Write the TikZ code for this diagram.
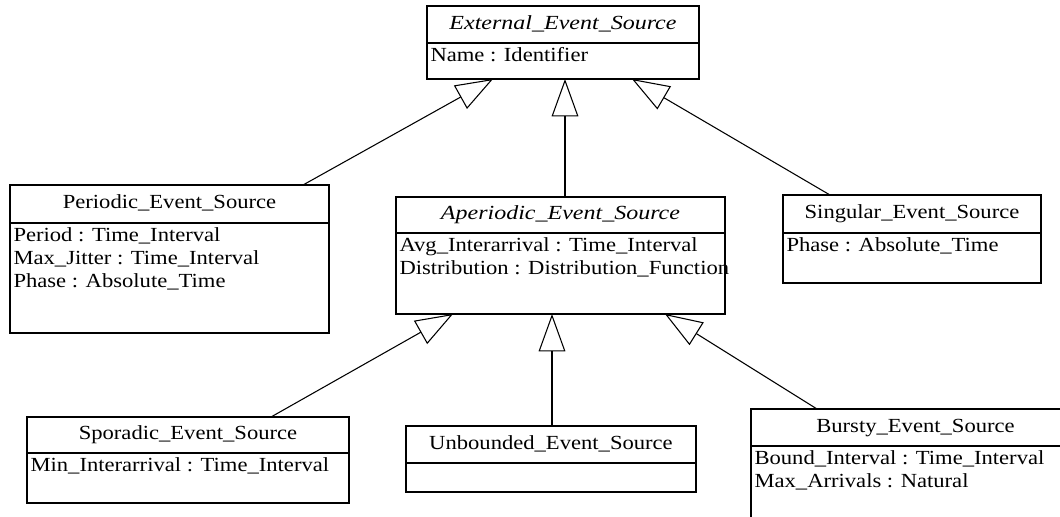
\documentclass[tikz,border=0pt]{standalone}
\usepackage{fontspec}
\setmainfont{Liberation Serif}[FakeStretch=1.13]
\newfontfamily\clsit{Liberation Serif}[FakeStretch=1.2]
\usetikzlibrary{fit,arrows.meta}
\newcommand{\umlclass}[8]{%
  \node[box, fit={(#2,#3)(#4,#5)}] (#1) {};
  \draw (#2,#6) -- (#4,#6);
  \node[ttl] (#1-title) at ({(#2+#4)/2},{(#3+#6)/2}) {#7};
  \node[attr] (#1-attr) at ({#2+3},{#6+4}) {#8};
}
\begin{document}
\begin{tikzpicture}[x=0.75pt,y=-0.75pt,line width=0.8pt,
  font=\fontsize{15}{17.25}\selectfont,
  box/.style={draw,inner sep=0pt},
  ttl/.style={inner sep=0pt,text height=10.5pt,text depth=3.5pt},
  attr/.style={anchor=north west,inner sep=0pt,align=left},
  gen/.style={-{Triangle[open,length=28pt,width=20pt]},line join=miter}]
\clip (0,0) rectangle (1060,517);
\fill[white] (0,0) rectangle (1060,517);

\umlclass{ext}{427}{6}{699}{79}{43}{\clsit\itshape External\_Event\_Source}{Name : Identifier}
\umlclass{per}{10}{185}{329}{333}{223}{Periodic\_Event\_Source}{Period : Time\_Interval\\Max\_Jitter : Time\_Interval\\Phase : Absolute\_Time}
\umlclass{ape}{396}{197}{725}{314}{233}{\clsit\itshape Aperiodic\_Event\_Source}{Avg\_Interarrival : Time\_Interval\\Distribution : Distribution\_Function}
\umlclass{sing}{783}{195}{1041}{283}{233}{Singular\_Event\_Source}{Phase : Absolute\_Time}
\umlclass{spo}{27}{417}{349}{503}{453}{Sporadic\_Event\_Source}{Min\_Interarrival : Time\_Interval}
\umlclass{unb}{406}{426}{696}{492}{463}{Unbounded\_Event\_Source}{}
\umlclass{bur}{751}{409}{1080}{545}{446}{Bursty\_Event\_Source}{Bound\_Interval : Time\_Interval\\Max\_Arrivals : Natural}

\coordinate (ext-l) at (493,79);
\coordinate (ext-m) at (565,79);
\coordinate (ext-r) at (632,79);
\coordinate (per-t) at (303,185);
\coordinate (ape-t) at (565,197);
\coordinate (sing-t) at (830,195);
\coordinate (ape-l) at (453,314);
\coordinate (ape-m) at (552,314);
\coordinate (ape-r) at (665,314);
\coordinate (spo-t) at (271,417);
\coordinate (unb-t) at (552,426);
\coordinate (bur-t) at (817,409);

\draw[gen] (per-t) -- (ext-l);
\draw[gen] (ape-t) -- (ext-m);
\draw[gen] (sing-t) -- (ext-r);
\draw[gen] (spo-t) -- (ape-l);
\draw[gen] (unb-t) -- (ape-m);
\draw[gen] (bur-t) -- (ape-r);
\end{tikzpicture}
\end{document}
